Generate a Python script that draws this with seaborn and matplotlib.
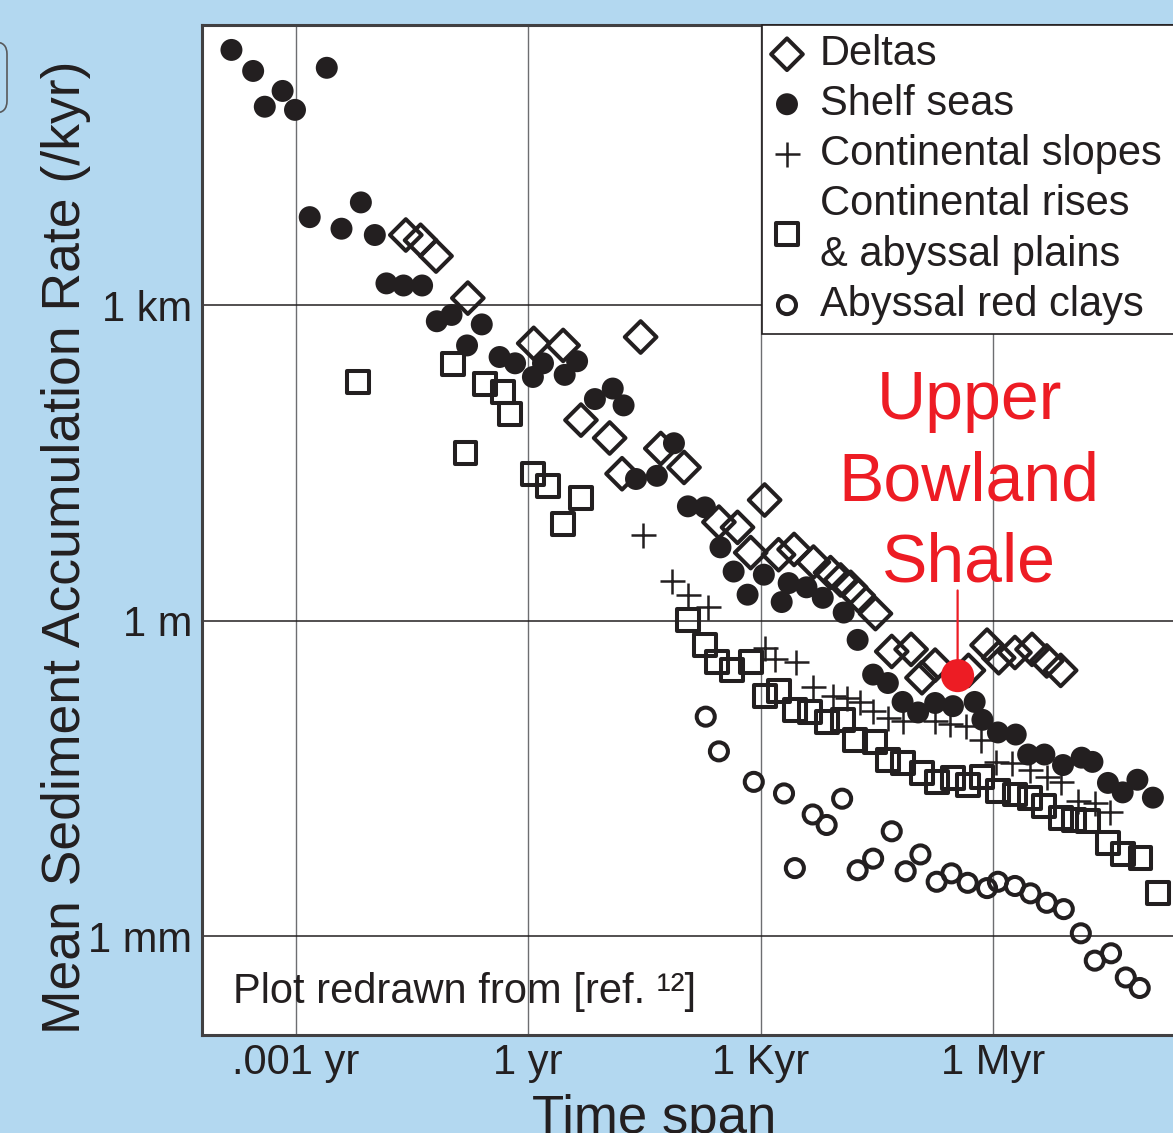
"""Mean sediment accumulation rate vs time span, by depositional setting."""

import matplotlib.pyplot as plt
import numpy as np
import seaborn as sns
from matplotlib.patches import FancyBboxPatch

INK = "#231f20"
RED = "#ed1c24"
BG = "#b3d8f0"

# values, as log10(time span / yr) and log10(rate / (m per kyr))
deltas_logt = [-1.58, -1.39, -1.19, -0.78, 0.07, 0.45, 1.45, 0.68, 1.05, 1.21, 1.71, 2.01,
               2.46, 2.70, 3.05, 2.87, 3.23, 3.43, 3.68, 3.90, 4.03, 4.16, 4.26, 4.48,
               4.69, 4.94, 5.08, 5.25, 5.68, 5.92, 6.07, 6.28, 6.50, 6.69, 6.87]
deltas_logr = [3.67, 3.62, 3.47, 3.07, 2.64, 2.62, 2.70, 1.91, 1.74, 1.40, 1.64, 1.46,
               0.94, 0.89, 1.15, 0.65, 0.63, 0.68, 0.56, 0.46, 0.39, 0.32, 0.24, 0.07,
               -0.29, -0.27, -0.54, -0.42, -0.47, -0.23, -0.35, -0.30, -0.27, -0.38, -0.47]

shelf_logt = [-3.83, -3.55, -3.40, -3.17, -3.01, -2.60, -2.82, -2.41, -2.16, -1.98, -1.83,
              -1.61, -1.37, -1.18, -0.99, -0.60, -0.79, -0.37, -0.17, 0.06, 0.19, 0.47,
              0.63, 0.86, 1.09, 1.23, 1.88, 1.39, 1.66, 2.06, 2.28, 2.48, 2.65, 2.83, 3.04,
              3.27, 3.36, 3.59, 3.80, 4.07, 4.25, 4.45, 4.64, 4.83, 5.03, 5.25, 5.48, 5.76,
              5.86, 6.06, 6.29, 6.45, 6.66, 6.90, 7.14, 7.28, 7.48, 7.67, 7.86, 8.06]
shelf_logr = [5.43, 5.23, 4.89, 5.04, 4.86, 5.26, 3.84, 3.73, 3.98, 3.67, 3.21, 3.19, 3.19,
              2.85, 2.91, 2.82, 2.62, 2.51, 2.45, 2.32, 2.45, 2.34, 2.47, 2.11, 2.21, 2.05,
              1.69, 1.35, 1.38, 1.09, 1.08, 0.70, 0.47, 0.25, 0.44, 0.18, 0.36, 0.32, 0.22,
              0.08, -0.18, -0.51, -0.59, -0.77, -0.87, -0.78, -0.81, -0.77, -0.94, -1.06,
              -1.08, -1.27, -1.27, -1.37, -1.30, -1.34, -1.54, -1.63, -1.51, -1.68]

slopes_logt = [1.48, 1.85, 2.06, 2.32, 3.06, 3.19, 3.45, 3.67, 3.93, 4.11, 4.28, 4.45, 4.64,
               4.83, 5.25, 5.44, 5.65, 5.84, 6.03, 6.24, 6.47, 6.69, 6.88, 7.09, 7.31, 7.50]
slopes_logr = [0.82, 0.38, 0.25, 0.13, -0.26, -0.36, -0.39, -0.63, -0.71, -0.73, -0.77,
               -0.86, -0.92, -0.95, -0.95, -0.98, -1.00, -1.13, -1.34, -1.35, -1.42, -1.48,
               -1.53, -1.71, -1.73, -1.82]

rises_logt = [-2.20, -0.97, -0.56, -0.32, -0.24, -0.81, 0.06, 0.25, 0.68, 0.45, 2.06, 2.28,
              2.43, 2.63, 2.88, 3.05, 3.23, 3.44, 3.63, 3.86, 4.06, 4.21, 4.47, 4.64, 4.83,
              5.08, 5.28, 5.48, 5.67, 5.86, 6.06, 6.28, 6.47, 6.66, 6.87, 7.04, 7.22, 7.48,
              7.68, 7.90, 8.12]
rises_logr = [2.27, 2.44, 2.25, 2.18, 1.97, 1.60, 1.40, 1.28, 1.17, 0.92, 0.01, -0.23,
              -0.39, -0.47, -0.39, -0.71, -0.67, -0.85, -0.87, -0.96, -0.94, -1.13, -1.15,
              -1.32, -1.35, -1.45, -1.53, -1.49, -1.56, -1.48, -1.62, -1.65, -1.68, -1.76,
              -1.87, -1.89, -1.90, -2.11, -2.22, -2.25, -2.59]

clays_logt = [2.29, 2.46, 2.91, 3.30, 3.67, 3.85, 4.05, 3.44, 4.69, 4.25, 4.45, 4.87, 5.06,
              5.27, 5.46, 5.67, 5.92, 6.06, 6.28, 6.48, 6.69, 6.91, 7.13, 7.31, 7.52, 7.71,
              7.89]
clays_logr = [-0.91, -1.24, -1.53, -1.64, -1.84, -1.94, -1.69, -2.35, -2.00, -2.37, -2.26,
              -2.38, -2.22, -2.48, -2.40, -2.49, -2.54, -2.48, -2.52, -2.59, -2.68, -2.74,
              -2.97, -3.23, -3.16, -3.39, -3.49]

bowland_logt = 5.54
bowland_logr = -0.52

x_ticks = [1e-3, 1, 1e3, 1e6]
x_labels = [".001 yr", "1 yr", "1 Kyr", "1 Myr"]
y_ticks = [1e-3, 1, 1e3]
y_labels = ["1 mm", "1 m", "1 km"]

sns.set_theme(style="white")
plt.rcParams["font.family"] = ["Liberation Sans", "DejaVu Sans"]
plt.rcParams["text.color"] = INK

W, H = 1173, 1133
fig = plt.figure(figsize=(W / 100, H / 100), dpi=100, facecolor=BG)
ax = fig.add_axes([202 / W, 98 / H, 985 / W, 1010 / H])
ax.set_facecolor("white")


def p(vals):
    return 10 ** np.asarray(vals)


sns.scatterplot(x=p(rises_logt), y=p(rises_logr), marker="s", s=250, color=INK,
                facecolor="none", edgecolor=INK, linewidth=2.9,
                label="Continental rises\n& abyssal plains", ax=ax, zorder=3)
sns.scatterplot(x=p(slopes_logt), y=p(slopes_logr), marker="+", s=324, color=INK,
                linewidth=1.8, label="Continental slopes", ax=ax, zorder=3)
sns.scatterplot(x=p(clays_logt), y=p(clays_logr), marker="o", s=169, color=INK,
                facecolor="none", edgecolor=INK, linewidth=2.9,
                label="Abyssal red clays", ax=ax, zorder=3)
sns.scatterplot(x=p(deltas_logt), y=p(deltas_logr), marker="D", s=260, color=INK,
                facecolor="none", edgecolor=INK, linewidth=2.9,
                label="Deltas", ax=ax, zorder=3)
sns.scatterplot(x=p(shelf_logt), y=p(shelf_logr), marker="o", s=250, color=INK,
                edgecolor="none", label="Shelf seas", ax=ax, zorder=4)
sns.scatterplot(x=[10 ** bowland_logt], y=[10 ** bowland_logr], marker="o", s=566,
                color=RED, edgecolor="none", ax=ax, zorder=5, legend=False)

ax.set_xscale("log")
ax.set_yscale("log")
ax.set_xlim(10 ** -4.21, 10 ** 8.5)
ax.set_ylim(10 ** -3.937, 10 ** 5.667)
ax.set_xticks(x_ticks, x_labels)
ax.set_yticks(y_ticks, y_labels)
ax.minorticks_off()
ax.tick_params(length=0, labelsize=30, labelcolor=INK)
ax.tick_params(axis="y", pad=7)
ax.tick_params(axis="x", pad=6)
ax.set_xlabel("")
ax.set_ylabel("")
ax.set_axisbelow(True)
ax.xaxis.grid(True, color="#6d6e71", linewidth=1.0)
ax.yaxis.grid(True, color=INK, linewidth=1.1)
for s in ax.spines.values():
    s.set_color("#414042")
    s.set_linewidth(2.2)

# Upper Bowland Shale callout
ax.annotate("", xy=(10 ** bowland_logt, 10 ** bowland_logr), xytext=(10 ** bowland_logt, 10 ** 0.29),
            arrowprops=dict(arrowstyle="-", color=RED, lw=1.6, shrinkA=0, shrinkB=0), zorder=5)
ax.text(10 ** 5.69, 10 ** 1.32, "Upper\nBowland\nShale", color=RED, fontsize=49,
        ha="center", va="center", linespacing=1.34)

ax.text(10 ** -3.81, 10 ** -3.63, "Plot redrawn from [ref. \u00b9\u00b2]", fontsize=30,
        ha="left", va="baseline", color=INK)

handles, labels = ax.get_legend_handles_labels()
order = ["Deltas", "Shelf seas", "Continental slopes", "Continental rises\n& abyssal plains",
         "Abyssal red clays"]
hmap = dict(zip(labels, handles))
leg = ax.legend([hmap[k] for k in order], order, loc="upper left",
                bbox_to_anchor=(0.5685, 0.0, 0.6, 1.0), mode="expand", borderaxespad=0,
                fontsize=30, frameon=True, fancybox=False, framealpha=1,
                borderpad=0.22, labelspacing=0.24, handlelength=0.76, handletextpad=0.41,
                scatterpoints=1)
for t in leg.get_texts():
    t.set_linespacing(1.35)
leg.get_frame().set_edgecolor(INK)
leg.get_frame().set_linewidth(1.2)
leg.set_zorder(6)

fig.text(66 / W, 1 - 547 / H, "Mean Sediment Accumulation Rate (/kyr)", rotation=90,
         ha="center", va="center", fontsize=38.5, color=INK)
fig.text(654 / W, 1 - 1133 / H, "Time span", ha="center", va="baseline", fontsize=38,
         color=INK)

# edge of a neighbouring panel box, clipped at the left
fig.patches.append(FancyBboxPatch((-0.5, 10.20), 0.57, 0.71,
                                  boxstyle="round,pad=0,rounding_size=0.12",
                                  transform=fig.dpi_scale_trans, facecolor="none",
                                  edgecolor="#58595b", linewidth=1.2))

fig.savefig("out.png", dpi=100, facecolor=BG)
